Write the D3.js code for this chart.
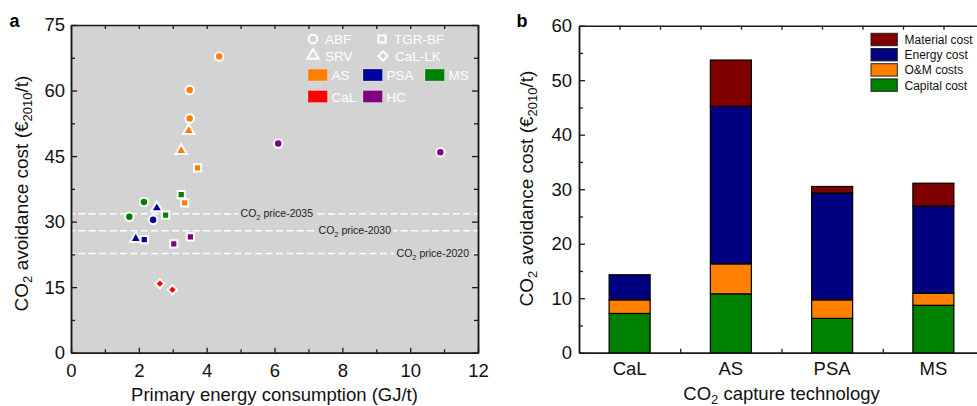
<!DOCTYPE html>
<html><head><meta charset="utf-8">
<script src="https://cdn.jsdelivr.net/npm/d3@7"></script>
<style>body{margin:0;background:#fff}svg{display:block;font-family:"Liberation Sans",Arial,Helvetica,sans-serif}</style>
</head><body><svg id="c" width="977" height="406"></svg>
<script>
// ---------- Panel a data ----------
const techs = ["AS","PSA","MS","CaL","HC"];
const techColors = ["#ff8000","#00009c","#008000","#ff0000","#800080"];
const configs = ["ABF","TGR-BF","SRV","CaL-LK"];
const pointTech = ["AS","AS","AS","AS","AS","AS","AS","PSA","PSA","PSA","PSA","MS","MS","MS","MS","CaL","CaL","HC","HC","HC","HC"];
const pointConfig = ["ABF","ABF","ABF","SRV","SRV","TGR-BF","TGR-BF","ABF","SRV","SRV","TGR-BF","ABF","ABF","TGR-BF","TGR-BF","CaL-LK","CaL-LK","ABF","ABF","TGR-BF","TGR-BF"];
const energyUse = [4.37,3.50,3.50,3.47,3.25,3.73,3.35,2.42,2.53,1.91,2.16,2.15,1.72,3.25,2.79,2.62,2.99,6.11,10.89,3.52,3.03];
const avoidCost = [67.8,60.1,53.6,50.8,46.2,42.3,34.3,30.4,33.1,26.1,25.9,34.5,31.1,36.2,31.5,15.8,14.4,47.9,45.9,26.5,24.9];
const priceYears = ["2035","2030","2020"];
const co2Prices = [31.8,27.9,22.7];
const xTicksA = [0,2,4,6,8,10,12];
const yTicksA = [0,15,30,45,60,75];

// ---------- Panel b data ----------
const categories = ["CaL","AS","PSA","MS"];
const costTypes = ["Capital cost","O&M costs","Energy cost","Material cost"];
const costColors = ["#008000","#ff8000","#000080","#800000"];
const capitalCost = [7.2,10.8,6.3,8.7];
const omCost = [2.5,5.5,3.4,2.2];
const energyCost = [4.6,28.9,19.6,16.0];
const materialCost = [0,8.5,1.2,4.2];
const yTicksB = [0,10,20,30,40,50,60];

const svg = d3.select("#c");
const FS = 18.5;
const AX = "#1a1a1a";

function styleAxis(g, fs){
  g.attr("font-size", fs).attr("font-family", '"Liberation Sans",Arial,sans-serif');
  g.selectAll("path.domain").attr("stroke", AX).attr("stroke-width", 1.5);
  g.selectAll(".tick line").attr("stroke", AX).attr("stroke-width", 1.3);
  g.selectAll(".tick text").attr("fill", "#111");
}

// ================= Panel a =================
const xA = d3.scaleLinear().domain([0,12]).range([71,478]);
const yA = d3.scaleLinear().domain([0,75]).range([352.7,25]);
const gA = svg.append("g");
gA.append("rect").attr("x", xA(0)).attr("y", yA(75)).attr("width", xA(12)-xA(0)).attr("height", yA(0)-yA(75)).attr("fill", "#d3d3d3");

// dashed CO2 price lines
const priceLabelStart = [5.0, 7.3, 9.6];
co2Prices.forEach((p,i) => {
  gA.append("line").attr("x1", xA(0)-3).attr("x2", xA(12)).attr("y1", yA(p)).attr("y2", yA(p))
    .attr("stroke", "#fff").attr("stroke-width", 1.4).attr("stroke-dasharray", "7,3.4");
});

// axes
const minorX = d3.range(1,12,2);
const minorY = d3.range(7.5,75,15);
function ax(g, axis){ const s = g.append("g"); s.call(axis); styleAxis(s, FS); return s; }
ax(gA.append("g").attr("transform", `translate(0,${yA(0)})`),
   d3.axisBottom(xA).tickValues(xTicksA).tickSize(-5).tickSizeOuter(0).tickPadding(11).tickFormat(d3.format("d")));
ax(gA.append("g").attr("transform", `translate(0,${yA(0)})`),
   d3.axisBottom(xA).tickValues(minorX).tickSize(-3.5).tickSizeOuter(0).tickFormat(""));
ax(gA.append("g").attr("transform", `translate(0,${yA(75)})`),
   d3.axisTop(xA).tickValues(xTicksA.concat(minorX)).tickSize(-4).tickSizeOuter(0).tickFormat(""));
ax(gA.append("g").attr("transform", `translate(${xA(0)},0)`),
   d3.axisLeft(yA).tickValues(yTicksA).tickSize(-6).tickSizeOuter(0).tickPadding(6).tickFormat(d3.format("d")));
ax(gA.append("g").attr("transform", `translate(${xA(0)},0)`),
   d3.axisLeft(yA).tickValues(minorY).tickSize(-4).tickSizeOuter(0).tickFormat(""));
ax(gA.append("g").attr("transform", `translate(${xA(12)},0)`),
   d3.axisRight(yA).tickValues(yTicksA).tickSize(-6).tickSizeOuter(0).tickFormat(""));
ax(gA.append("g").attr("transform", `translate(${xA(12)},0)`),
   d3.axisRight(yA).tickValues(minorY).tickSize(-4).tickSizeOuter(0).tickFormat(""));

// price labels
co2Prices.forEach((p,i) => {
  const t = gA.append("text").attr("x", xA(priceLabelStart[i])).attr("y", yA(p)+3.6)
    .attr("font-size", 10.5).attr("fill", "#222");
  t.append("tspan").text("CO");
  t.append("tspan").attr("font-size", 7.5).attr("dy", 3).text("2");
  t.append("tspan").attr("dy", -3).text(" price-" + priceYears[i]);
  const bb = t.node().getBBox();
  gA.insert("rect", () => t.node()).attr("x", bb.x-2).attr("y", yA(p)-2).attr("width", bb.width+4).attr("height", 4).attr("fill", "#d3d3d3");
});

// symbols
const colorOf = d3.scaleOrdinal().domain(techs).range(techColors);
function symPath(cfg){
  if (cfg === "ABF") return d3.symbol(d3.symbolCircle, 57)();
  if (cfg === "TGR-BF") return d3.symbol(d3.symbolSquare, 52)();
  if (cfg === "SRV") return d3.symbol(d3.symbolTriangle, 56)();
  return d3.symbol(d3.symbolSquare, 42)();
}
const pts = energyUse.map((e,i) => ({x:e, y:avoidCost[i], tech:pointTech[i], cfg:pointConfig[i]}));
gA.append("g").selectAll("path").data(pts).join("path")
  .attr("d", d => symPath(d.cfg))
  .attr("transform", d => `translate(${xA(d.x)},${yA(d.y)})` + (d.cfg === "CaL-LK" ? " rotate(45)" : ""))
  .attr("fill", d => colorOf(d.tech)).attr("stroke", "#fff").attr("stroke-width", 2);

// legend a (shapes)
const legShapes = [
  {cfg:"ABF", x:313, y:39}, {cfg:"TGR-BF", x:382, y:39},
  {cfg:"SRV", x:313, y:55.5}, {cfg:"CaL-LK", x:383, y:56}
];
legShapes.forEach(s => {
  gA.append("path").attr("d", symPath(s.cfg))
    .attr("transform", `translate(${s.x},${s.y})` + (s.cfg === "CaL-LK" ? " rotate(45)" : ""))
    .attr("fill", "none").attr("stroke", "#fff").attr("stroke-width", 2);
  gA.append("text").attr("x", s.x + 12).attr("y", s.y + 5).attr("font-size", 13.5).attr("fill", "#fff").text(s.cfg);
});
const legTech = [
  {x:308, y:69}, {x:363, y:69}, {x:425, y:69}, {x:308, y:90.5}, {x:363, y:90.5}
];
techs.forEach((t,i) => {
  const p = legTech[i];
  gA.append("rect").attr("x", p.x).attr("y", p.y).attr("width", 19.5).attr("height", 12)
    .attr("fill", techColors[i]).attr("stroke", "#fff").attr("stroke-opacity", 0.35).attr("stroke-width", 0.8);
  gA.append("text").attr("x", p.x + 23.5).attr("y", p.y + 11).attr("font-size", 13.5).attr("fill", "#fff").text(t);
});

// titles a
svg.append("text").attr("x", 9.5).attr("y", 27).attr("font-size", 18).attr("font-weight", "bold").text("a");
svg.append("text").attr("x", (xA(0)+xA(12))/2).attr("y", 400.5).attr("text-anchor", "middle")
  .attr("font-size", FS).attr("fill", "#111").text("Primary energy consumption (GJ/t)");
function yTitle(x, cy){
  const t = svg.append("text").attr("transform", `translate(${x},${cy}) rotate(-90)`).attr("text-anchor", "middle")
    .attr("font-size", 19).attr("fill", "#111");
  t.append("tspan").text("CO");
  t.append("tspan").attr("font-size", 13).attr("dy", 4).text("2");
  t.append("tspan").attr("dy", -4).text(" avoidance cost (€");
  t.append("tspan").attr("font-size", 13).attr("dy", 4).text("2010");
  t.append("tspan").attr("dy", -4).text("/t)");
}
yTitle(27.5, 193.5);

// ================= Panel b =================
const xB = d3.scaleBand().domain(categories).range([579,984]).paddingInner(0.595).paddingOuter(0.2975);
const yB = d3.scaleLinear().domain([0,60]).range([352.7,25.7]);
const xBlin = d3.scaleLinear().domain([0,10]).range([579,984]);
const xBidx = d3.scaleLinear().domain([0,4]).range([579,984]);
const gB = svg.append("g");

const table = categories.map((c,i) => ({cat:c, "Capital cost":capitalCost[i], "O&M costs":omCost[i], "Energy cost":energyCost[i], "Material cost":materialCost[i]}));
const stack = d3.stack().keys(costTypes)(table);
stack.forEach((layer, li) => {
  gB.append("g").selectAll("rect").data(layer.filter(d => d[1]-d[0] > 0)).join("rect")
    .attr("x", d => xB(d.data.cat)).attr("width", xB.bandwidth())
    .attr("y", d => yB(d[1])).attr("height", d => yB(d[0]) - yB(d[1]))
    .attr("fill", costColors[li]).attr("stroke", "#000").attr("stroke-width", 1.2);
});

ax(gB.append("g").attr("transform", `translate(0,${yB(0)})`),
   d3.axisBottom(xB).tickSize(0).tickSizeOuter(0).tickPadding(9.5));
ax(gB.append("g").attr("transform", `translate(0,${yB(0)})`),
   d3.axisBottom(xBidx).tickValues([1,2,3]).tickSize(-4).tickSizeOuter(0).tickFormat(""));
ax(gB.append("g").attr("transform", `translate(0,${yB(60)})`),
   d3.axisTop(xBlin).tickValues(d3.range(1,10)).tickSize(-4).tickSizeOuter(0).tickFormat(""));
ax(gB.append("g").attr("transform", `translate(${xB.range()[0]},0)`),
   d3.axisLeft(yB).tickValues(yTicksB).tickSize(-6).tickSizeOuter(0).tickPadding(7).tickFormat(d3.format("d")));
ax(gB.append("g").attr("transform", `translate(${xB.range()[0]},0)`),
   d3.axisLeft(yB).tickValues(d3.range(5,60,10)).tickSize(-4).tickSizeOuter(0).tickFormat(""));
ax(gB.append("g").attr("transform", `translate(${xB.range()[1]},0)`),
   d3.axisRight(yB).tickValues(yTicksB).tickSize(-6).tickSizeOuter(0).tickFormat(""));

// legend b
const legOrder = [3,2,1,0];
legOrder.forEach((k, r) => {
  const y = 33.3 + r*15.2;
  gB.append("rect").attr("x", 871).attr("y", y).attr("width", 26.3).attr("height", 12.4)
    .attr("fill", costColors[k]).attr("stroke", "#222").attr("stroke-width", 1);
  gB.append("text").attr("x", 904.5).attr("y", y + 10.6).attr("font-size", 12).attr("fill", "#111").text(costTypes[k]);
});

svg.append("text").attr("x", 516.5).attr("y", 26.5).attr("font-size", 18).attr("font-weight", "bold").text("b");
const xtB = svg.append("text").attr("x", (579+984)/2).attr("y", 399.5).attr("text-anchor", "middle")
  .attr("font-size", FS).attr("fill", "#111");
xtB.append("tspan").text("CO");
xtB.append("tspan").attr("font-size", 13).attr("dy", 4).text("2");
xtB.append("tspan").attr("dy", -4).text(" capture technology");
yTitle(532.5, 188.5);
</script></body></html>
